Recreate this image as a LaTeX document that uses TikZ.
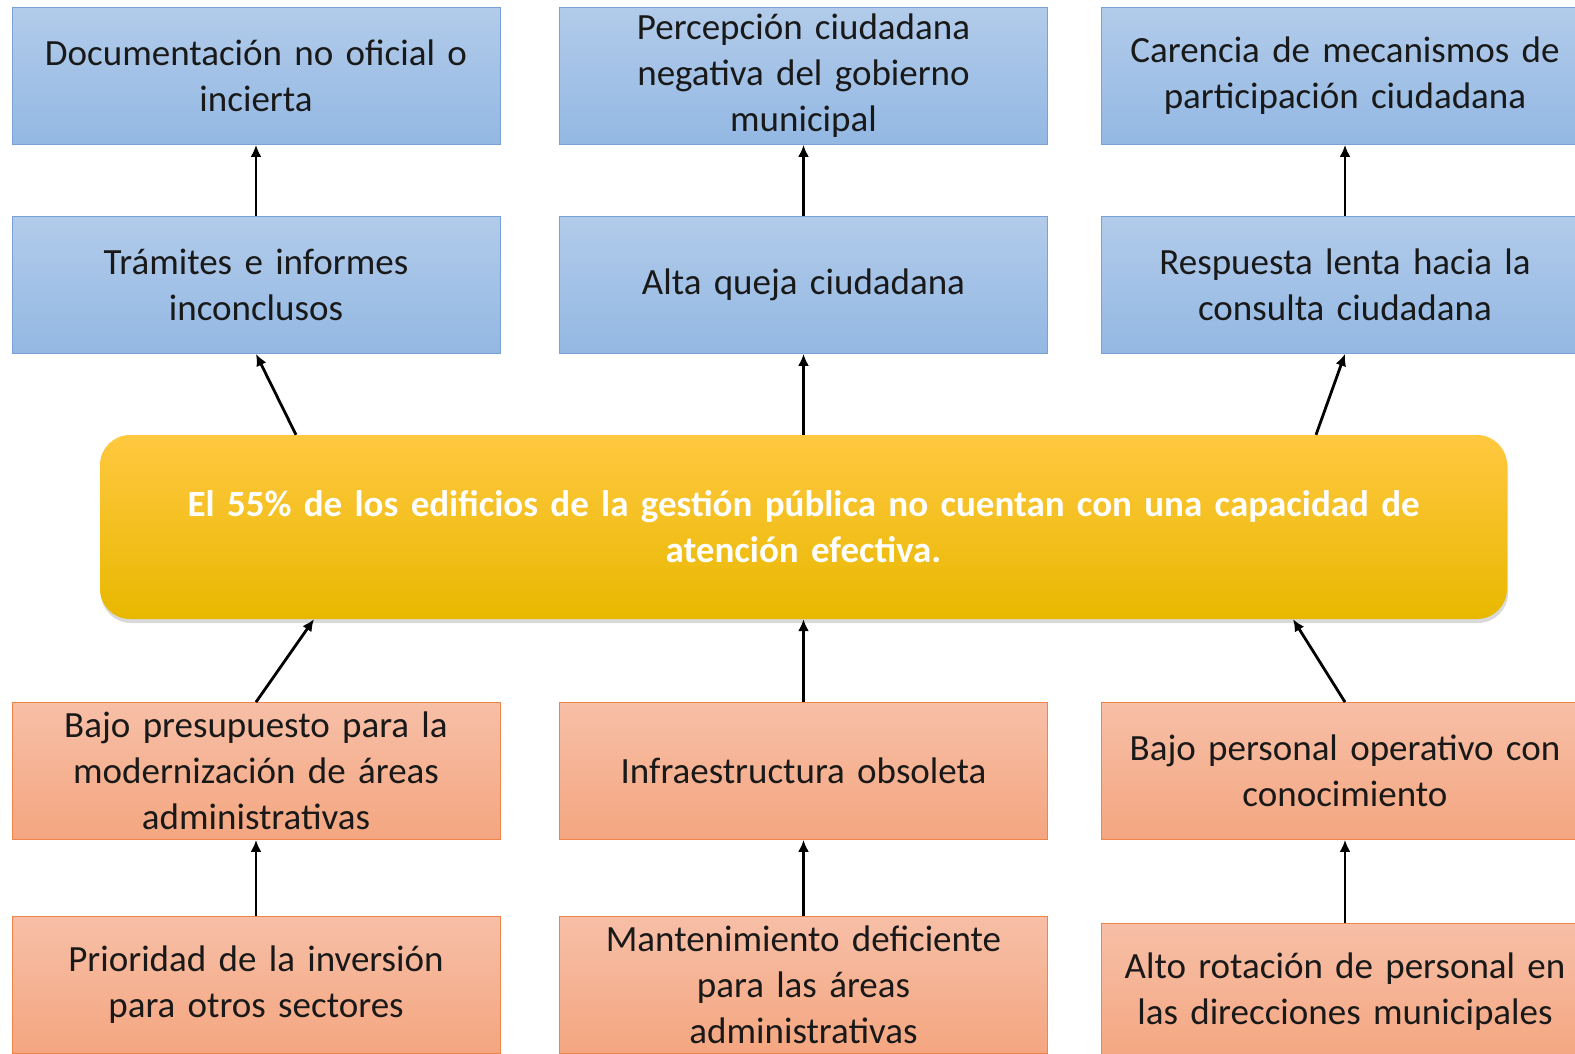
\documentclass[tikz,border=0pt]{standalone}
\usepackage{fontspec}
\setmainfont{Carlito}
\usepackage{xcolor}
\usetikzlibrary{arrows.meta,shadows}

\definecolor{azulA}{RGB}{178,203,234}
\definecolor{azulB}{RGB}{147,184,227}
\definecolor{azulBorde}{RGB}{120,162,214}
\definecolor{salmonA}{RGB}{247,191,167}
\definecolor{salmonB}{RGB}{244,166,128}
\definecolor{salmonBorde}{RGB}{237,132,72}
\definecolor{oroA}{RGB}{255,200,64}
\definecolor{oroB}{RGB}{255,198,0}
\definecolor{oroC}{RGB}{232,184,0}

\tikzset{
  caja/.style={rectangle, minimum width=488pt, minimum height=137pt,
    text width=470pt, align=center, inner xsep=9pt, inner ysep=0pt,
    line width=0.8pt, text=black!90, font=\fontsize{37}{46}\selectfont},
  efecto/.style={caja, draw=azulBorde, top color=azulA, bottom color=azulB},
  causa/.style={caja, draw=salmonBorde, top color=salmonA, bottom color=salmonB},
  problema/.style={rectangle, rounded corners=30pt, minimum width=1407pt,
    minimum height=184pt, text width=1320pt, align=center, text=white,
    top color=oroA, middle color=oroB, bottom color=oroC,
    font=\fontsize{37}{46}\selectfont\bfseries,
    drop shadow={shadow xshift=1pt, shadow yshift=-4pt, opacity=0.3}},
  flecha/.style={-{Latex[length=12pt,width=11pt]}, line width=2.8pt}
}

\begin{document}
\begin{tikzpicture}[x=1pt,y=-1pt]
  \useasboundingbox (0,0) rectangle (1575,1054);
  \clip (0,0) rectangle (1575,1054);

  % efectos
  \node[efecto] (doc) at (256,76) {Documentación no oficial o\\incierta};
  \node[efecto] (perc) at (803.5,76) {Percepción ciudadana\\negativa del gobierno\\municipal};
  \node[efecto] (caren) at (1345,76) {Carencia de mecanismos de\\participación ciudadana};
  \node[efecto] (tram) at (256,285) {Trámites e informes\\inconclusos};
  \node[efecto] (queja) at (803.5,285) {Alta queja ciudadana};
  \node[efecto] (resp) at (1345,285) {Respuesta lenta hacia la\\consulta ciudadana};

  % problema central
  \node[problema] (prob) at (803.5,527) {El 55\% de los edificios de la gestión pública no cuentan con una capacidad de\\atención efectiva.};

  % causas
  \node[causa] (presu) at (256,771) {Bajo presupuesto para la\\modernización de áreas\\administrativas};
  \node[causa] (infra) at (803.5,771) {Infraestructura obsoleta};
  \node[causa] (perso) at (1345,771) {Bajo personal operativo con\\conocimiento};
  \node[causa] (prio) at (256,985) {Prioridad de la inversión\\para otros sectores};
  \node[causa] (mant) at (803.5,985) {Mantenimiento deficiente\\para las áreas\\administrativas};
  \node[causa] (rota) at (1345,992) {Alto rotación de personal en\\las direcciones municipales};

  \draw[flecha] (tram.north) -- (doc.south);
  \draw[flecha] (queja.north) -- (perc.south);
  \draw[flecha] (resp.north) -- (caren.south);
  \draw[flecha] ([xshift=-507.5pt]prob.north) -- (tram.south);
  \draw[flecha] (prob.north) -- (queja.south);
  \draw[flecha] ([xshift=512.5pt]prob.north) -- (resp.south);
  \draw[flecha] (presu.north) -- ([xshift=-489.5pt]prob.south);
  \draw[flecha] (infra.north) -- (prob.south);
  \draw[flecha] (perso.north) -- ([xshift=489.5pt]prob.south);
  \draw[flecha] (prio.north) -- (presu.south);
  \draw[flecha] (mant.north) -- (infra.south);
  \draw[flecha] (rota.north) -- (perso.south);
\end{tikzpicture}
\end{document}
